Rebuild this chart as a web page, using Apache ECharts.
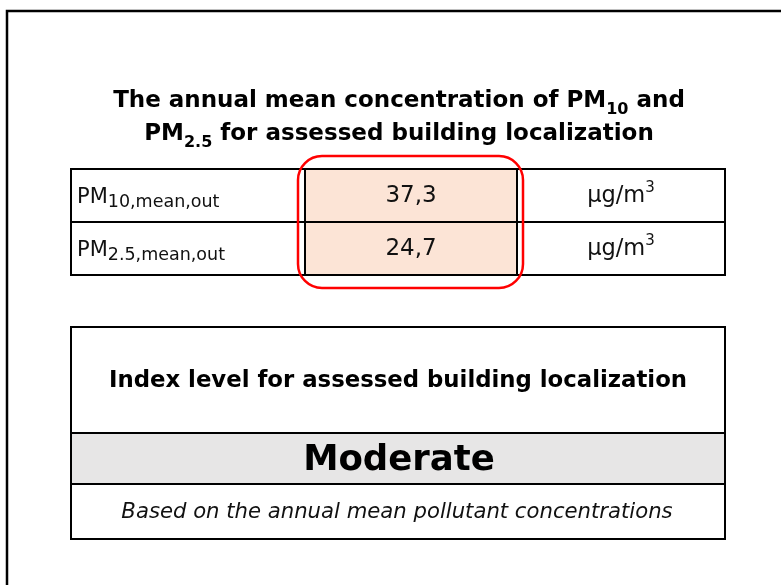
<!DOCTYPE html>
<html>
<head>
<meta charset="utf-8">
<script src="https://cdn.jsdelivr.net/npm/echarts@6/dist/echarts.min.js"></script>
<style>
html,body{margin:0;padding:0;background:#fff;}
#main{width:781px;height:585px;}
</style>
</head>
<body>
<div id="main"></div>
<script>
// ---- data ----
const titleLine1 = ['The annual mean concentration of PM', '10', ' and'];
const titleLine2 = ['PM', '2.5', ' for assessed building localization'];
const rowNames = ['PM', 'PM'];
const rowSubs = ['10,mean,out', '2.5,mean,out'];
const rowValues = [37.3, 24.7];
const unitBase = ['µg/m', 'µg/m'];
const unitSup = ['3', '3'];
const indexTitle = 'Index level for assessed building localization';
const indexLevel = 'Moderate';
const indexNote = 'Based on the annual mean pollutant concentrations';

// ---- layout ----
const FONT = '"DejaVu Sans", Verdana, sans-serif';
const T = { left: 71, right: 725, top: 169, bottom: 275, cols: [71, 305, 517, 725] };
const rowH = (T.bottom - T.top) / rowNames.length;
const B = { left: 71, right: 725, top: 327, bottom: 539, band1: 433, band2: 484 };

function fmt(v) { return v.toFixed(1).replace('.', ','); }

const els = [];
// outer frame
els.push({ type: 'rect', shape: { x: 7, y: 11, width: 900, height: 700 },
  style: { fill: '#fff', stroke: '#000', lineWidth: 2.5 } });

// title
els.push({ type: 'text', x: 399, y: 118,
  style: {
    text: '{b|' + titleLine1[0] + '}{s|' + titleLine1[1] + '}{b|' + titleLine1[2] + '}\n' +
          '{b|' + titleLine2[0] + '}{s|' + titleLine2[1] + '}{b|' + titleLine2[2] + '}',
    align: 'center', verticalAlign: 'middle',
    rich: {
      b: { fontFamily: FONT, fontWeight: 'bold', fontSize: 23, lineHeight: 33, fill: '#000', verticalAlign: 'middle' },
      s: { fontFamily: FONT, fontWeight: 'bold', fontSize: 16, lineHeight: 19, fill: '#000', verticalAlign: 'bottom' }
    }
  } });

// table 1 middle fill
els.push({ type: 'rect', shape: { x: T.cols[1], y: T.top, width: T.cols[2] - T.cols[1], height: T.bottom - T.top },
  style: { fill: '#fce4d6' } });
// table 1 grid
els.push({ type: 'rect', shape: { x: T.left, y: T.top, width: T.right - T.left, height: T.bottom - T.top },
  style: { fill: 'none', stroke: '#000', lineWidth: 2 } });
for (let i = 1; i < rowNames.length; i++) {
  const y = T.top + rowH * i;
  els.push({ type: 'line', shape: { x1: T.left, y1: y, x2: T.right, y2: y }, style: { stroke: '#000', lineWidth: 2 } });
}
for (let c = 1; c < T.cols.length - 1; c++) {
  els.push({ type: 'line', shape: { x1: T.cols[c], y1: T.top, x2: T.cols[c], y2: T.bottom }, style: { stroke: '#000', lineWidth: 2 } });
}
// table 1 texts
rowNames.forEach(function (name, i) {
  const cy = T.top + rowH * (i + 0.5);
  els.push({ type: 'text', x: T.cols[0] + 6, y: cy + 2,
    style: {
      text: '{m|' + name + '}{s|' + rowSubs[i] + '}',
      align: 'left', verticalAlign: 'middle',
      rich: {
        m: { fontFamily: FONT, fontSize: 21, lineHeight: 28, fill: '#111', verticalAlign: 'middle' },
        s: { fontFamily: FONT, fontSize: 17.5, lineHeight: 13, fill: '#111', verticalAlign: 'bottom' }
      }
    } });
  els.push({ type: 'text', x: (T.cols[1] + T.cols[2]) / 2, y: cy + 1,
    style: { text: fmt(rowValues[i]), align: 'center', verticalAlign: 'middle',
      fontFamily: FONT, fontSize: 23, fill: '#111' } });
  els.push({ type: 'text', x: (T.cols[2] + T.cols[3]) / 2, y: cy + 1,
    style: {
      text: '{u|' + unitBase[i] + '}{p|' + unitSup[i] + '}',
      align: 'center', verticalAlign: 'middle',
      rich: {
        u: { fontFamily: FONT, fontSize: 22.5, lineHeight: 32, fill: '#111', verticalAlign: 'middle' },
        p: { fontFamily: FONT, fontSize: 15, lineHeight: 20, fill: '#111', verticalAlign: 'top' }
      }
    } });
});
// red highlight
els.push({ type: 'rect', shape: { x: 298, y: 156, width: 225, height: 132, r: 24 },
  style: { fill: 'none', stroke: '#ff0000', lineWidth: 2.5 } });

// table 2
els.push({ type: 'rect', shape: { x: B.left, y: B.band1, width: B.right - B.left, height: B.band2 - B.band1 },
  style: { fill: '#e7e6e6' } });
els.push({ type: 'rect', shape: { x: B.left, y: B.top, width: B.right - B.left, height: B.bottom - B.top },
  style: { fill: 'none', stroke: '#000', lineWidth: 2 } });
[B.band1, B.band2].forEach(function (y) {
  els.push({ type: 'line', shape: { x1: B.left, y1: y, x2: B.right, y2: y }, style: { stroke: '#000', lineWidth: 2 } });
});
const bx = (B.left + B.right) / 2;
els.push({ type: 'text', x: bx, y: (B.top + B.band1) / 2 + 1,
  style: { text: indexTitle, align: 'center', verticalAlign: 'middle',
    fontFamily: FONT, fontWeight: 'bold', fontSize: 22.8, fill: '#000' } });
els.push({ type: 'text', x: bx + 1, y: (B.band1 + B.band2) / 2 + 2,
  style: { text: indexLevel, align: 'center', verticalAlign: 'middle',
    fontFamily: FONT, fontWeight: 'bold', fontSize: 35.5, fill: '#000' } });
els.push({ type: 'text', x: bx - 1, y: (B.band2 + B.bottom) / 2 + 1,
  style: { text: indexNote, align: 'center', verticalAlign: 'middle',
    fontFamily: FONT, fontStyle: 'italic', fontSize: 21.2, fill: '#111' } });

const chart = echarts.init(document.getElementById('main'), null, { renderer: 'canvas' });
chart.setOption({
  backgroundColor: '#fff',
  animation: false,
  graphic: { elements: els }
});
</script>
</body>
</html>
